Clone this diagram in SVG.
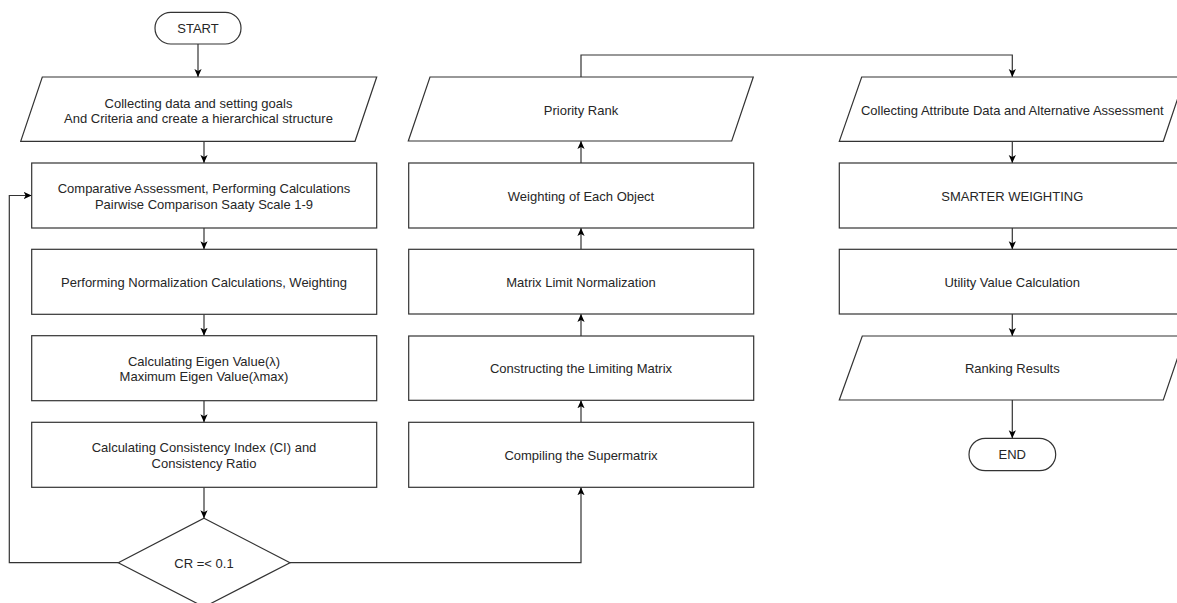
<svg xmlns="http://www.w3.org/2000/svg" width="1177" height="603" viewBox="0 0 1177 603">
  <style>
    .shape { fill: #ffffff; stroke: #333333; stroke-width: 1.2; }
    .edge { fill: none; stroke: #333333; stroke-width: 1.2; }
    .label { font-family: "Liberation Sans", Arial, sans-serif; font-size: 13px; fill: #262626; text-anchor: middle; }
  </style>
  <defs>
    <marker id="arrow" viewBox="0 0 10 10" refX="10" refY="5" markerWidth="8" markerHeight="8" markerUnits="userSpaceOnUse" orient="auto">
      <path d="M0,0.5 L10,5 L0,9.5 L2.5,5 z" fill="#000000"/>
    </marker>
  </defs>
  <rect width="1177" height="603" fill="#ffffff"/>

  <g id="connectors">
    <path class="edge" d="M198,44 L198,77" marker-end="url(#arrow)"/>
    <path class="edge" d="M204,141 L204,163" marker-end="url(#arrow)"/>
    <path class="edge" d="M204,228 L204,249.3" marker-end="url(#arrow)"/>
    <path class="edge" d="M204,314.3 L204,335.7" marker-end="url(#arrow)"/>
    <path class="edge" d="M204,400.7 L204,422.3" marker-end="url(#arrow)"/>
    <path class="edge" d="M204,487.3 L204,518.3" marker-end="url(#arrow)"/>
    <path class="edge" d="M118.3,562.7 L9.3,562.7 L9.3,195.5 L31.7,195.5" marker-end="url(#arrow)"/>
    <path class="edge" d="M290,562.7 L581,562.7 L581,487.3" marker-end="url(#arrow)"/>
    <path class="edge" d="M581,422.3 L581,400.3" marker-end="url(#arrow)"/>
    <path class="edge" d="M581,336 L581,314" marker-end="url(#arrow)"/>
    <path class="edge" d="M581,249.3 L581,228" marker-end="url(#arrow)"/>
    <path class="edge" d="M581,163 L581,141" marker-end="url(#arrow)"/>
    <path class="edge" d="M581,77 L581,55 L1012.3,55 L1012.3,77" marker-end="url(#arrow)"/>
    <path class="edge" d="M1012.3,141 L1012.3,163" marker-end="url(#arrow)"/>
    <path class="edge" d="M1012.3,228 L1012.3,249.3" marker-end="url(#arrow)"/>
    <path class="edge" d="M1012.3,314 L1012.3,336" marker-end="url(#arrow)"/>
    <path class="edge" d="M1012.3,400 L1012.3,438.3" marker-end="url(#arrow)"/>
  </g>

  <g id="start">
    <rect class="shape" x="155" y="12.3" width="86" height="31.7" rx="15.8" ry="15.8"/>
    <text class="label" x="198" y="32.7">START</text>
  </g>
  <g id="collect-data">
    <polygon class="shape" points="42.3,77 376.7,77 355,141.3 20.7,141.3"/>
    <text class="label" x="198.5" y="107.7">Collecting data and setting goals</text>
    <text class="label" x="198.5" y="123.3">And Criteria and create a hierarchical structure</text>
  </g>
  <g id="comparative">
    <rect class="shape" x="31.7" y="163" width="345" height="65"/>
    <text class="label" x="204" y="193.2">Comparative Assessment, Performing Calculations</text>
    <text class="label" x="204" y="208.7">Pairwise Comparison Saaty Scale 1-9</text>
  </g>
  <g id="normalization">
    <rect class="shape" x="31.7" y="249.3" width="345" height="65"/>
    <text class="label" x="204" y="287.2">Performing Normalization Calculations, Weighting</text>
  </g>
  <g id="eigen">
    <rect class="shape" x="31.7" y="335.7" width="345" height="65"/>
    <text class="label" x="204" y="366.3">Calculating Eigen Value(λ)</text>
    <text class="label" x="204" y="381.3">Maximum Eigen Value(λmax)</text>
  </g>
  <g id="consistency">
    <rect class="shape" x="31.7" y="422.3" width="345" height="65"/>
    <text class="label" x="204" y="452.3">Calculating Consistency Index (CI) and</text>
    <text class="label" x="204" y="467.8">Consistency Ratio</text>
  </g>
  <g id="decision">
    <polygon class="shape" points="204,518.3 290,562.7 204,607 118.3,562.7"/>
    <text class="label" x="204" y="567.8">CR =&lt; 0.1</text>
  </g>

  <g id="supermatrix">
    <rect class="shape" x="408.7" y="422.3" width="345" height="65"/>
    <text class="label" x="581" y="459.5">Compiling the Supermatrix</text>
  </g>
  <g id="limiting-matrix">
    <rect class="shape" x="408.7" y="336" width="345" height="64.3"/>
    <text class="label" x="581" y="372.8">Constructing the Limiting Matrix</text>
  </g>
  <g id="matrix-normalization">
    <rect class="shape" x="408.7" y="249.3" width="345" height="64.7"/>
    <text class="label" x="581" y="286.8">Matrix Limit Normalization</text>
  </g>
  <g id="weighting-object">
    <rect class="shape" x="408.7" y="163" width="345" height="65"/>
    <text class="label" x="581" y="200.5">Weighting of Each Object</text>
  </g>
  <g id="priority-rank">
    <polygon class="shape" points="430,77 753.3,77 731.7,141 408.3,141"/>
    <text class="label" x="581" y="114.5">Priority Rank</text>
  </g>

  <g id="collect-attribute">
    <polygon class="shape" points="861.7,77 1185,77 1163.3,141.3 839.3,141.3"/>
    <text class="label" x="1012.3" y="114.5">Collecting Attribute Data and Alternative Assessment</text>
  </g>
  <g id="smarter">
    <rect class="shape" x="839.3" y="163" width="345" height="65"/>
    <text class="label" x="1012.3" y="200.5">SMARTER WEIGHTING</text>
  </g>
  <g id="utility">
    <rect class="shape" x="839.3" y="249.3" width="345" height="64.7"/>
    <text class="label" x="1012.3" y="286.8">Utility Value Calculation</text>
  </g>
  <g id="ranking">
    <polygon class="shape" points="862.3,336 1185,336 1163.3,400 839.3,400"/>
    <text class="label" x="1012.3" y="372.8">Ranking Results</text>
  </g>
  <g id="end">
    <rect class="shape" x="969" y="438.3" width="86.7" height="32.4" rx="16.2" ry="16.2"/>
    <text class="label" x="1012.3" y="459.2">END</text>
  </g>
</svg>
